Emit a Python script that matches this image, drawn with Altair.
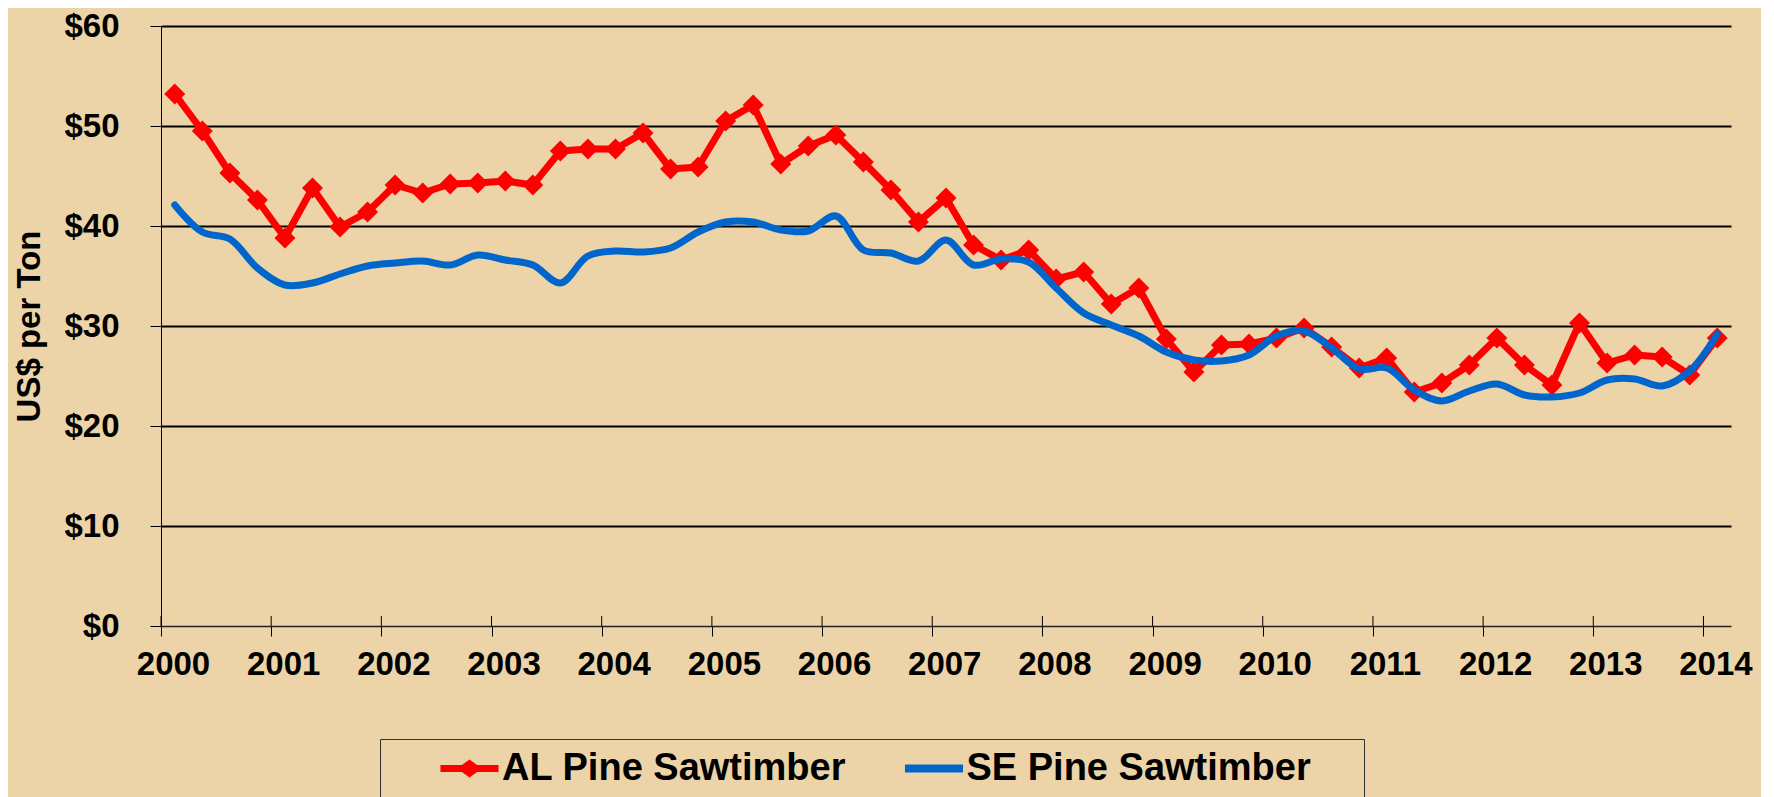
import altair as alt
import pandas as pd

# ---------------- data ----------------
series_names = ["AL Pine Sawtimber", "SE Pine Sawtimber"]
series_colors = ["#FF0000", "#0066CC"]

quarter_labels = [f"{y}Q{q}" for y in range(2000, 2015) for q in range(1, 5)][:57]

al_values = [53.2, 49.5, 45.3, 42.6, 38.8, 43.8, 39.9, 41.4,
             44.1, 43.3, 44.2, 44.3, 44.5, 44.1, 47.5, 47.7,
             47.7, 49.3, 45.7, 45.9, 50.5, 52.1, 46.2, 48.0,
             49.1, 46.4, 43.6, 40.4, 42.8, 38.1, 36.6, 37.6,
             34.7, 35.4, 32.2, 33.8, 28.7, 25.4, 28.1, 28.2,
             28.8, 29.8, 27.9, 25.8, 26.8, 23.4, 24.3, 26.1,
             28.8, 26.1, 24.1, 30.3, 26.3, 27.1, 26.9, 25.1,
             28.8]

se_values = [42.1, 39.4, 38.7, 35.8, 34.1, 34.3, 35.2, 36.0,
             36.3, 36.5, 36.1, 37.1, 36.6, 36.1, 34.3, 37.0,
             37.5, 37.4, 37.8, 39.4, 40.4, 40.4, 39.6, 39.5,
             41.0, 37.6, 37.3, 36.5, 38.6, 36.1, 36.7, 36.4,
             33.8, 31.3, 30.1, 29.0, 27.4, 26.6, 26.5, 27.1,
             29.0, 29.5, 27.8, 25.7, 25.8, 23.6, 22.5, 23.5,
             24.2, 23.1, 22.9, 23.3, 24.6, 24.7, 24.0, 25.5,
             29.2]

year_ticks = list(range(2000, 2015))
price_ticks = [0, 10, 20, 30, 40, 50, 60]

# mid-quarter position on a decimal-year axis
def quarter_pos(label):
    y, q = label.split("Q")
    return int(y) + (int(q) - 1) * 0.25 + 0.125

t = [quarter_pos(q) for q in quarter_labels]

df_al = pd.DataFrame({"t": t, "price": al_values, "quarter": quarter_labels})
df_se = pd.DataFrame({"t": t, "price": se_values, "quarter": quarter_labels})
df_years = pd.DataFrame({"t": year_ticks})
df_legend = pd.DataFrame({"series": series_names, "t": [2000, 2000], "price": [0, 0]})

# ---------------- styling ----------------
FONT = "Liberation Sans"
BG = "#ECD4A8"

x_enc = alt.X(
    "t:Q",
    title=None,
    scale=alt.Scale(domain=[2000, 2014.25], nice=False, zero=False),
    axis=alt.Axis(
        values=year_ticks, format="d", grid=False,
        tickSize=10, tickColor="black", tickWidth=1,
        domainColor="#222222", domainWidth=1.5,
        labelPadding=12, labelOffset=12,
        labelFont=FONT, labelFontSize=33, labelFontWeight="bold", labelColor="black",
        labelOverlap=False, labelFlush=False, labelBound=False,
    ),
)

y_enc = alt.Y(
    "price:Q",
    title="US$ per Ton",
    scale=alt.Scale(domain=[0, 60], nice=False),
    axis=alt.Axis(
        values=price_ticks, format="$,.0f",
        grid=True, gridColor="black",
        gridWidth=alt.condition("datum.value == 0", alt.value(0), alt.value(2)),
        tickSize=11, tickColor="black", tickWidth=1,
        domainColor="black", domainWidth=1,
        labelPadding=31,
        labelFont=FONT, labelFontSize=33, labelFontWeight="bold", labelColor="black",
        titleFont=FONT, titleFontSize=33, titleFontWeight="bold", titleColor="black",
        titlePadding=17,
    ),
)

red_line = alt.Chart(df_al).mark_line(
    color=series_colors[0], strokeWidth=7, strokeJoin="round", strokeCap="round"
).encode(x=x_enc, y=y_enc)

red_points = alt.Chart(df_al).mark_point(
    shape="diamond", filled=True, size=440, color=series_colors[0], opacity=1
).encode(x=x_enc, y=y_enc)

blue_line = alt.Chart(df_se).mark_line(
    color=series_colors[1], strokeWidth=7, interpolate="catmull-rom",
    strokeJoin="round", strokeCap="round"
).encode(x=x_enc, y=y_enc)

inner_ticks = alt.Chart(df_years).mark_rule(color="black", strokeWidth=1).encode(
    x=x_enc, y=alt.datum(0), y2=alt.datum(1)
)

# legend symbols: custom paths (line with diamond / plain line)
path_al = ("M-1.57,-0.19 L-0.41,-0.19 L0,-0.49 L0.41,-0.19 L1.57,-0.19 "
           "L1.57,0.19 L0.41,0.19 L0,0.49 L-0.41,0.19 L-1.57,0.19 Z")
path_se = "M-1.57,-0.21 L1.57,-0.21 L1.57,0.21 L-1.57,0.21 Z"

legend_def = alt.Legend(
    title="MM", titleOrient="right", titleColor="transparent",
    titleFont=FONT, titleFontSize=24, titleFontWeight="bold", titlePadding=3,
    orient="none", legendX=219, legendY=713,
    direction="horizontal",
    symbolSize=1369, symbolStrokeWidth=0, symbolOpacity=1,
    symbolOffset=60, labelOffset=13.5,
    labelFont=FONT, labelFontSize=38, labelFontWeight="bold", labelColor="black",
    labelLimit=1000, columnPadding=8.5, padding=10.5,
    strokeColor="#333333",
)

legend_layer = alt.Chart(df_legend).transform_filter("false").mark_point(
    filled=True, opacity=1
).encode(
    x=x_enc, y=y_enc,
    color=alt.Color("series:N", scale=alt.Scale(domain=series_names, range=series_colors),
                    legend=legend_def),
    shape=alt.Shape("series:N", scale=alt.Scale(domain=series_names, range=[path_al, path_se]),
                    legend=legend_def),
)

chart = alt.layer(
    inner_ticks, red_line, red_points, blue_line, legend_layer
).properties(
    width=1570, height=600,
    padding={"left": 153, "top": 18, "right": 30, "bottom": 171},
    autosize=alt.AutoSizeParams(type="none"),
    background=BG,
).configure_view(stroke=None)

chart.save("out.html", embed_options={"renderer": "svg", "actions": False})
